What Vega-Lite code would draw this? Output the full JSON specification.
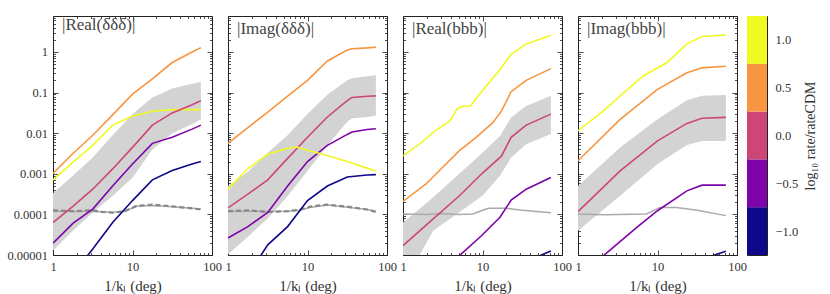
{
 "$schema": "https://vega.github.io/schema/vega-lite/v6.json",
 "padding": {"left": 6, "top": 11, "right": 5, "bottom": 2},
 "background": "white",
 "config": {
  "font": "Liberation Serif",
  "view": {"stroke": "#222", "strokeWidth": 1},
  "axis": {"grid": false, "domain": false, "labelFont": "Liberation Serif", "labelFontSize": 12.5, "labelColor": "#333", "tickColor": "#222", "tickWidth": 0.8, "titleFont": "Liberation Serif", "titleFontSize": 15, "titleFontWeight": "normal", "titleColor": "#333", "labelFlush": false, "labelOverlap": false, "labelBound": false},
  "title": {"font": "Liberation Serif", "fontSize": 17, "fontWeight": "normal", "color": "#444", "anchor": "start", "frame": "group", "baseline": "alphabetic", "offset": 0, "dx": 9, "dy": 26.5}
 },
 "datasets": {
  "lines": [
   {"p":1,"s":"0.5","x":1,"y":0.00102},{"p":1,"s":"0.5","x":1.778,"y":0.00316},{"p":1,"s":"0.5","x":3.162,"y":0.00891},{"p":1,"s":"0.5","x":5.623,"y":0.0282},{"p":1,"s":"0.5","x":10,"y":0.0912},{"p":1,"s":"0.5","x":17.78,"y":0.219},{"p":1,"s":"0.5","x":31.62,"y":0.55},{"p":1,"s":"0.5","x":56.23,"y":1.0},{"p":1,"s":"0.5","x":72.44,"y":1.28},
   {"p":1,"s":"1.0","x":1,"y":0.000708},{"p":1,"s":"1.0","x":1.778,"y":0.00191},{"p":1,"s":"1.0","x":3.162,"y":0.00501},{"p":1,"s":"1.0","x":5.623,"y":0.0158},{"p":1,"s":"1.0","x":7.943,"y":0.0214},{"p":1,"s":"1.0","x":10,"y":0.0263},{"p":1,"s":"1.0","x":17.78,"y":0.0347},{"p":1,"s":"1.0","x":31.62,"y":0.038},{"p":1,"s":"1.0","x":56.23,"y":0.038},{"p":1,"s":"1.0","x":72.44,"y":0.038},
   {"p":1,"s":"0.0","x":1,"y":0.0000631},{"p":1,"s":"0.0","x":1.778,"y":0.0001585},{"p":1,"s":"0.0","x":3.162,"y":0.000417},{"p":1,"s":"0.0","x":5.623,"y":0.001318},{"p":1,"s":"0.0","x":10,"y":0.00447},{"p":1,"s":"0.0","x":17.78,"y":0.0158},{"p":1,"s":"0.0","x":31.62,"y":0.0316},{"p":1,"s":"0.0","x":56.23,"y":0.0501},{"p":1,"s":"0.0","x":72.44,"y":0.0631},
   {"p":1,"s":"-0.5","x":1,"y":0.0000195},{"p":1,"s":"-0.5","x":1.778,"y":0.0000603},{"p":1,"s":"-0.5","x":3.162,"y":0.0001349},{"p":1,"s":"-0.5","x":5.623,"y":0.000501},{"p":1,"s":"-0.5","x":10,"y":0.001738},{"p":1,"s":"-0.5","x":17.78,"y":0.00562},{"p":1,"s":"-0.5","x":31.62,"y":0.00794},{"p":1,"s":"-0.5","x":56.23,"y":0.0126},{"p":1,"s":"-0.5","x":72.44,"y":0.0158},
   {"p":1,"s":"-1.0","x":2.512,"y":0.00000794},{"p":1,"s":"-1.0","x":3.162,"y":0.00001413},{"p":1,"s":"-1.0","x":5.623,"y":0.0000631},{"p":1,"s":"-1.0","x":10,"y":0.000219},{"p":1,"s":"-1.0","x":17.78,"y":0.000708},{"p":1,"s":"-1.0","x":31.62,"y":0.0012},{"p":1,"s":"-1.0","x":56.23,"y":0.00174},{"p":1,"s":"-1.0","x":72.44,"y":0.002},
   {"p":1,"s":"ref","x":1,"y":0.00012},{"p":1,"s":"ref","x":1.778,"y":0.0001175},{"p":1,"s":"ref","x":3.162,"y":0.00012},{"p":1,"s":"ref","x":5.623,"y":0.0001122},{"p":1,"s":"ref","x":7.943,"y":0.0001175},{"p":1,"s":"ref","x":11.22,"y":0.0001585},{"p":1,"s":"ref","x":17.78,"y":0.000166},{"p":1,"s":"ref","x":31.62,"y":0.000155},{"p":1,"s":"ref","x":56.23,"y":0.000141},{"p":1,"s":"ref","x":72.44,"y":0.000135},
   {"p":1,"s":"ref2","x":1,"y":0.000126},{"p":1,"s":"ref2","x":1.778,"y":0.00012},{"p":1,"s":"ref2","x":3.162,"y":0.000126},{"p":1,"s":"ref2","x":3.981,"y":0.000115},{"p":1,"s":"ref2","x":5.623,"y":0.00011},{"p":1,"s":"ref2","x":7.943,"y":0.00012},{"p":1,"s":"ref2","x":11.22,"y":0.000162},{"p":1,"s":"ref2","x":17.78,"y":0.000174},{"p":1,"s":"ref2","x":31.62,"y":0.000158},{"p":1,"s":"ref2","x":56.23,"y":0.000141},{"p":1,"s":"ref2","x":72.44,"y":0.000132},

   {"p":2,"s":"0.5","x":1,"y":0.00562},{"p":2,"s":"0.5","x":1.778,"y":0.0138},{"p":2,"s":"0.5","x":3.162,"y":0.0331},{"p":2,"s":"0.5","x":5.623,"y":0.0813},{"p":2,"s":"0.5","x":10,"y":0.2},{"p":2,"s":"0.5","x":17.78,"y":0.6},{"p":2,"s":"0.5","x":31.62,"y":1.12},{"p":2,"s":"0.5","x":36.31,"y":1.2},{"p":2,"s":"0.5","x":56.23,"y":1.26},{"p":2,"s":"0.5","x":72.44,"y":1.32},
   {"p":2,"s":"0.0","x":1,"y":0.0001445},{"p":2,"s":"0.0","x":1.778,"y":0.000316},{"p":2,"s":"0.0","x":3.162,"y":0.000708},{"p":2,"s":"0.0","x":5.623,"y":0.0024},{"p":2,"s":"0.0","x":10,"y":0.00794},{"p":2,"s":"0.0","x":17.78,"y":0.0251},{"p":2,"s":"0.0","x":31.62,"y":0.0631},{"p":2,"s":"0.0","x":36.31,"y":0.0759},{"p":2,"s":"0.0","x":56.23,"y":0.0813},{"p":2,"s":"0.0","x":72.44,"y":0.0832},
   {"p":2,"s":"-0.5","x":1,"y":0.0000263},{"p":2,"s":"-0.5","x":1.778,"y":0.0000501},{"p":2,"s":"-0.5","x":3.162,"y":0.000112},{"p":2,"s":"-0.5","x":5.623,"y":0.000501},{"p":2,"s":"-0.5","x":10,"y":0.002},{"p":2,"s":"-0.5","x":17.78,"y":0.00501},{"p":2,"s":"-0.5","x":31.62,"y":0.00933},{"p":2,"s":"-0.5","x":36.31,"y":0.0107},{"p":2,"s":"-0.5","x":56.23,"y":0.0123},{"p":2,"s":"-0.5","x":72.44,"y":0.0129},
   {"p":2,"s":"-1.0","x":2.512,"y":0.00000891},{"p":2,"s":"-1.0","x":3.162,"y":0.0000178},{"p":2,"s":"-1.0","x":5.623,"y":0.0000501},{"p":2,"s":"-1.0","x":10,"y":0.000219},{"p":2,"s":"-1.0","x":17.78,"y":0.000501},{"p":2,"s":"-1.0","x":31.62,"y":0.000832},{"p":2,"s":"-1.0","x":56.23,"y":0.000933},{"p":2,"s":"-1.0","x":72.44,"y":0.000955},
   {"p":2,"s":"1.0","x":1,"y":0.000417},{"p":2,"s":"1.0","x":1.778,"y":0.00135},{"p":2,"s":"1.0","x":3.162,"y":0.00302},{"p":2,"s":"1.0","x":5.623,"y":0.00427},{"p":2,"s":"1.0","x":7.413,"y":0.00457},{"p":2,"s":"1.0","x":10,"y":0.0038},{"p":2,"s":"1.0","x":17.78,"y":0.00282},{"p":2,"s":"1.0","x":31.62,"y":0.002},{"p":2,"s":"1.0","x":56.23,"y":0.00138},{"p":2,"s":"1.0","x":72.44,"y":0.001175},
   {"p":2,"s":"ref","x":1,"y":0.0001175},{"p":2,"s":"ref","x":1.778,"y":0.00012},{"p":2,"s":"ref","x":3.162,"y":0.0001175},{"p":2,"s":"ref","x":5.623,"y":0.00012},{"p":2,"s":"ref","x":7.943,"y":0.000126},{"p":2,"s":"ref","x":11.22,"y":0.000151},{"p":2,"s":"ref","x":17.78,"y":0.00017},{"p":2,"s":"ref","x":31.62,"y":0.000151},{"p":2,"s":"ref","x":56.23,"y":0.000132},{"p":2,"s":"ref","x":72.44,"y":0.00012},
   {"p":2,"s":"ref2","x":1,"y":0.00012},{"p":2,"s":"ref2","x":1.778,"y":0.000126},{"p":2,"s":"ref2","x":3.162,"y":0.000115},{"p":2,"s":"ref2","x":5.623,"y":0.00012},{"p":2,"s":"ref2","x":7.943,"y":0.00013},{"p":2,"s":"ref2","x":11.22,"y":0.000158},{"p":2,"s":"ref2","x":17.78,"y":0.000174},{"p":2,"s":"ref2","x":31.62,"y":0.000155},{"p":2,"s":"ref2","x":56.23,"y":0.000132},{"p":2,"s":"ref2","x":72.44,"y":0.000115},

   {"p":3,"s":"1.0","x":1,"y":0.00275},{"p":3,"s":"1.0","x":1.778,"y":0.00631},{"p":3,"s":"1.0","x":2.399,"y":0.0105},{"p":3,"s":"1.0","x":3.89,"y":0.02},{"p":3,"s":"1.0","x":4.786,"y":0.0398},{"p":3,"s":"1.0","x":5.623,"y":0.0457},{"p":3,"s":"1.0","x":7.079,"y":0.0468},{"p":3,"s":"1.0","x":10,"y":0.112},{"p":3,"s":"1.0","x":16.6,"y":0.372},{"p":3,"s":"1.0","x":22.91,"y":0.871},{"p":3,"s":"1.0","x":35.48,"y":1.585},{"p":3,"s":"1.0","x":72.44,"y":2.57},
   {"p":3,"s":"0.5","x":1,"y":0.000209},{"p":3,"s":"0.5","x":1.95,"y":0.000562},{"p":3,"s":"0.5","x":3.162,"y":0.001445},{"p":3,"s":"0.5","x":5.129,"y":0.00372},{"p":3,"s":"0.5","x":8.318,"y":0.00794},{"p":3,"s":"0.5","x":13.49,"y":0.0182},{"p":3,"s":"0.5","x":17.38,"y":0.0355},{"p":3,"s":"0.5","x":22.91,"y":0.105},{"p":3,"s":"0.5","x":35.48,"y":0.2},{"p":3,"s":"0.5","x":72.44,"y":0.389},
   {"p":3,"s":"0.0","x":1,"y":0.000017},{"p":3,"s":"0.0","x":2.399,"y":0.0000776},{"p":3,"s":"0.0","x":5.129,"y":0.000288},{"p":3,"s":"0.0","x":9.772,"y":0.001},{"p":3,"s":"0.0","x":17.38,"y":0.00275},{"p":3,"s":"0.0","x":22.91,"y":0.00794},{"p":3,"s":"0.0","x":35.48,"y":0.0158},{"p":3,"s":"0.0","x":72.44,"y":0.0295},
   {"p":3,"s":"-0.5","x":4.9,"y":0.00000891},{"p":3,"s":"-0.5","x":9.772,"y":0.0000302},{"p":3,"s":"-0.5","x":16.6,"y":0.0000851},{"p":3,"s":"-0.5","x":22.91,"y":0.000224},{"p":3,"s":"-0.5","x":35.48,"y":0.000417},{"p":3,"s":"-0.5","x":72.44,"y":0.000813},
   {"p":3,"s":"-1.0","x":47.86,"y":0.00000891},{"p":3,"s":"-1.0","x":72.44,"y":0.0000126},
   {"p":3,"s":"ref","x":1,"y":0.000102},{"p":3,"s":"ref","x":1.995,"y":0.0001},{"p":3,"s":"ref","x":3.162,"y":0.0001047},{"p":3,"s":"ref","x":5.012,"y":0.0001},{"p":3,"s":"ref","x":7.586,"y":0.000102},{"p":3,"s":"ref","x":10,"y":0.000126},{"p":3,"s":"ref","x":12.02,"y":0.000141},{"p":3,"s":"ref","x":19.95,"y":0.000141},{"p":3,"s":"ref","x":31.62,"y":0.000126},{"p":3,"s":"ref","x":72.44,"y":0.00011},

   {"p":4,"s":"1.0","x":1,"y":0.0115},{"p":4,"s":"1.0","x":2.089,"y":0.0355},{"p":4,"s":"1.0","x":3.388,"y":0.0832},{"p":4,"s":"1.0","x":6.607,"y":0.257},{"p":4,"s":"1.0","x":13.18,"y":0.55},{"p":4,"s":"1.0","x":23.44,"y":1.585},{"p":4,"s":"1.0","x":36.31,"y":2.4},{"p":4,"s":"1.0","x":72.44,"y":2.63},
   {"p":4,"s":"0.5","x":1,"y":0.00209},{"p":4,"s":"0.5","x":3.388,"y":0.0219},{"p":4,"s":"0.5","x":10,"y":0.12},{"p":4,"s":"0.5","x":23.44,"y":0.309},{"p":4,"s":"0.5","x":36.31,"y":0.407},{"p":4,"s":"0.5","x":72.44,"y":0.447},
   {"p":4,"s":"0.0","x":1,"y":0.0001175},{"p":4,"s":"0.0","x":3.388,"y":0.001175},{"p":4,"s":"0.0","x":10,"y":0.00646},{"p":4,"s":"0.0","x":23.44,"y":0.0174},{"p":4,"s":"0.0","x":36.31,"y":0.0234},{"p":4,"s":"0.0","x":72.44,"y":0.0245},
   {"p":4,"s":"-0.5","x":1.995,"y":0.00000891},{"p":4,"s":"-0.5","x":5.495,"y":0.0000479},{"p":4,"s":"-0.5","x":10,"y":0.000123},{"p":4,"s":"-0.5","x":23.44,"y":0.00038},{"p":4,"s":"-0.5","x":36.31,"y":0.000525},{"p":4,"s":"-0.5","x":72.44,"y":0.000525},
   {"p":4,"s":"-1.0","x":43.65,"y":0.00000891},{"p":4,"s":"-1.0","x":72.44,"y":0.0000123},
   {"p":4,"s":"ref","x":1,"y":0.000102},{"p":4,"s":"ref","x":1.585,"y":0.0001},{"p":4,"s":"ref","x":2.239,"y":0.0000977},{"p":4,"s":"ref","x":3.162,"y":0.0001},{"p":4,"s":"ref","x":7.244,"y":0.000102},{"p":4,"s":"ref","x":10.72,"y":0.000148},{"p":4,"s":"ref","x":17.38,"y":0.000148},{"p":4,"s":"ref","x":31.62,"y":0.000126},{"p":4,"s":"ref","x":72.44,"y":0.0000933}
  ],
  "band": [
   {"p":1,"x":1,"lo":0.0000129,"hi":0.000331},{"p":1,"x":1.778,"lo":0.0000398,"hi":0.000891},{"p":1,"x":3.162,"lo":0.000112,"hi":0.00251},{"p":1,"x":5.623,"lo":0.000282,"hi":0.00891},{"p":1,"x":10,"lo":0.000794,"hi":0.0295},{"p":1,"x":17.78,"lo":0.00398,"hi":0.0759},{"p":1,"x":31.62,"lo":0.01,"hi":0.126},{"p":1,"x":56.23,"lo":0.0166,"hi":0.166},{"p":1,"x":72.44,"lo":0.0219,"hi":0.186},
   {"p":2,"x":1,"lo":0.0000105,"hi":0.000501},{"p":2,"x":1.778,"lo":0.0000282,"hi":0.00112},{"p":2,"x":3.162,"lo":0.0000794,"hi":0.00331},{"p":2,"x":5.623,"lo":0.000282,"hi":0.00891},{"p":2,"x":10,"lo":0.001175,"hi":0.0295},{"p":2,"x":17.78,"lo":0.00501,"hi":0.0891},{"p":2,"x":31.62,"lo":0.0191,"hi":0.2},{"p":2,"x":36.31,"lo":0.0234,"hi":0.224},{"p":2,"x":56.23,"lo":0.0251,"hi":0.251},{"p":2,"x":72.44,"lo":0.0269,"hi":0.269},
   {"p":3,"x":1,"lo":0.00000398,"hi":0.0000631},{"p":3,"x":1.62,"lo":0.00001,"hi":0.000138},{"p":3,"x":2.399,"lo":0.0000398,"hi":0.000263},{"p":3,"x":10,"lo":0.000288,"hi":0.00331},{"p":3,"x":16.6,"lo":0.000891,"hi":0.00851},{"p":3,"x":22.91,"lo":0.00251,"hi":0.0245},{"p":3,"x":35.48,"lo":0.00537,"hi":0.0468},{"p":3,"x":72.44,"lo":0.00955,"hi":0.0832},
   {"p":4,"x":1,"lo":0.0000398,"hi":0.000501},{"p":4,"x":3.388,"lo":0.000288,"hi":0.00447},{"p":4,"x":10,"lo":0.00174,"hi":0.0219},{"p":4,"x":23.44,"lo":0.00513,"hi":0.0646},{"p":4,"x":36.31,"lo":0.00646,"hi":0.0832},{"p":4,"x":72.44,"lo":0.00646,"hi":0.0871}
  ],
  "cbar": [
   {"s":"-1.0","lo":-1.25,"hi":-0.75},{"s":"-0.5","lo":-0.75,"hi":-0.25},{"s":"0.0","lo":-0.25,"hi":0.25},{"s":"0.5","lo":0.25,"hi":0.75},{"s":"1.0","lo":0.75,"hi":1.25}
  ]
 },
 "spacing": -1,
 "bounds": "full",
 "hconcat": [
  {
   "spacing": 16,
   "bounds": "flush",
   "hconcat": [
    {
     "width": 159, "height": 239,
     "title": {"text": "|Real(δδδ)|"},
     "resolve": {"axis": {"x": "independent", "y": "independent"}},
     "layer": [
      {"data": {"name": "band"}, "transform": [{"filter": "datum.p == 1"}],
       "mark": {"type": "area", "color": "#d3d3d3", "opacity": 1, "clip": true},
       "encoding": {
        "x": {"field": "x", "type": "quantitative", "scale": {"type": "log", "domain": [1, 100], "nice": false}, "axis": {"orient": "bottom", "values": [1,2,3,4,5,6,7,8,9,10,20,30,40,50,60,70,80,90,100], "labelExpr": "abs(log(datum.value)/LN10-round(log(datum.value)/LN10))<0.001 ? format(datum.value, 'd') : ''", "tickSize": {"condition": {"test": "abs(log(datum.value)/LN10-round(log(datum.value)/LN10))<0.001", "value": -5}, "value": -2.5}, "labelPadding": 10, "title": "1/kₗ (deg)", "titlePadding": 3}},
        "y": {"field": "lo", "type": "quantitative", "scale": {"type": "log", "domain": [0.00001, 7.7], "nice": false}, "axis": {"orient": "left", "values": [0.00001,0.00002,0.00003,0.00004,0.00005,0.00006,0.00007,0.00008,0.00009,0.0001,0.0002,0.0003,0.0004,0.0005,0.0006,0.0007,0.0008,0.0009,0.001,0.002,0.003,0.004,0.005,0.006,0.007,0.008,0.009,0.01,0.02,0.03,0.04,0.05,0.06,0.07,0.08,0.09,0.1,0.2,0.3,0.4,0.5,0.6,0.7,0.8,0.9,1,2,3,4,5,6,7], "labelExpr": "abs(log(datum.value)/LN10-round(log(datum.value)/LN10))<0.001 ? format(datum.value, '.5~f') : ''", "tickSize": {"condition": {"test": "abs(log(datum.value)/LN10-round(log(datum.value)/LN10))<0.001", "value": -5}, "value": -2.5}, "labelPadding": 10.5, "title": null}},
        "y2": {"field": "hi"}
       }},
      {"data": {"name": "lines"}, "transform": [{"filter": "datum.p == 1 && datum.s == 'ref'"}],
       "mark": {"type": "line", "color": "#aaaaaa", "strokeWidth": 1.5, "clip": true},
       "encoding": {
        "x": {"field": "x", "type": "quantitative", "scale": {"type": "log", "domain": [1, 100], "nice": false}, "axis": {"orient": "top", "values": [1,2,3,4,5,6,7,8,9,10,20,30,40,50,60,70,80,90,100], "labels": false, "tickSize": {"condition": {"test": "abs(log(datum.value)/LN10-round(log(datum.value)/LN10))<0.001", "value": -5}, "value": -2.5}, "title": null}},
        "y": {"field": "y", "type": "quantitative", "scale": {"type": "log", "domain": [0.00001, 7.7], "nice": false}, "axis": {"orient": "right", "values": [0.00001,0.00002,0.00003,0.00004,0.00005,0.00006,0.00007,0.00008,0.00009,0.0001,0.0002,0.0003,0.0004,0.0005,0.0006,0.0007,0.0008,0.0009,0.001,0.002,0.003,0.004,0.005,0.006,0.007,0.008,0.009,0.01,0.02,0.03,0.04,0.05,0.06,0.07,0.08,0.09,0.1,0.2,0.3,0.4,0.5,0.6,0.7,0.8,0.9,1,2,3,4,5,6,7], "labels": false, "tickSize": {"condition": {"test": "abs(log(datum.value)/LN10-round(log(datum.value)/LN10))<0.001", "value": -5}, "value": -2.5}, "title": null}}
       }},
      {"data": {"name": "lines"}, "transform": [{"filter": "datum.p == 1 && datum.s == 'ref2'"}],
       "mark": {"type": "line", "color": "#888888", "strokeWidth": 2.2, "strokeDash": [5, 3], "clip": true},
       "encoding": {
        "x": {"field": "x", "type": "quantitative", "scale": {"type": "log", "domain": [1, 100], "nice": false}, "axis": null},
        "y": {"field": "y", "type": "quantitative", "scale": {"type": "log", "domain": [0.00001, 7.7], "nice": false}, "axis": null}
       }},
      {"data": {"name": "lines"}, "transform": [{"filter": "datum.p == 1 && datum.s != 'ref' && datum.s != 'ref2'"}],
       "mark": {"type": "line", "strokeWidth": 1.6, "clip": true},
       "encoding": {
        "x": {"field": "x", "type": "quantitative", "scale": {"type": "log", "domain": [1, 100], "nice": false}, "axis": null},
        "y": {"field": "y", "type": "quantitative", "scale": {"type": "log", "domain": [0.00001, 7.7], "nice": false}, "axis": null},
        "color": {"field": "s", "type": "nominal", "scale": {"domain": ["-1.0","-0.5","0.0","0.5","1.0"], "range": ["#0d0887","#7e03a8","#cc4778","#f89540","#f0f921"]}, "legend": null}
       }}
     ]
    },
    {
     "width": 159, "height": 239,
     "title": {"text": "|Imag(δδδ)|"},
     "resolve": {"axis": {"x": "independent", "y": "independent"}},
     "layer": [
      {"data": {"name": "band"}, "transform": [{"filter": "datum.p == 2"}],
       "mark": {"type": "area", "color": "#d3d3d3", "opacity": 1, "clip": true},
       "encoding": {
        "x": {"field": "x", "type": "quantitative", "scale": {"type": "log", "domain": [1, 100], "nice": false}, "axis": {"orient": "bottom", "values": [1,2,3,4,5,6,7,8,9,10,20,30,40,50,60,70,80,90,100], "labelExpr": "abs(log(datum.value)/LN10-round(log(datum.value)/LN10))<0.001 ? format(datum.value, 'd') : ''", "tickSize": {"condition": {"test": "abs(log(datum.value)/LN10-round(log(datum.value)/LN10))<0.001", "value": -5}, "value": -2.5}, "labelPadding": 10, "title": "1/kₗ (deg)", "titlePadding": 3}},
        "y": {"field": "lo", "type": "quantitative", "scale": {"type": "log", "domain": [0.00001, 7.7], "nice": false}, "axis": {"orient": "left", "values": [0.00001,0.00002,0.00003,0.00004,0.00005,0.00006,0.00007,0.00008,0.00009,0.0001,0.0002,0.0003,0.0004,0.0005,0.0006,0.0007,0.0008,0.0009,0.001,0.002,0.003,0.004,0.005,0.006,0.007,0.008,0.009,0.01,0.02,0.03,0.04,0.05,0.06,0.07,0.08,0.09,0.1,0.2,0.3,0.4,0.5,0.6,0.7,0.8,0.9,1,2,3,4,5,6,7], "labels": false, "tickSize": {"condition": {"test": "abs(log(datum.value)/LN10-round(log(datum.value)/LN10))<0.001", "value": -5}, "value": -2.5}, "title": null}},
        "y2": {"field": "hi"}
       }},
      {"data": {"name": "lines"}, "transform": [{"filter": "datum.p == 2 && datum.s == 'ref'"}],
       "mark": {"type": "line", "color": "#aaaaaa", "strokeWidth": 1.5, "clip": true},
       "encoding": {
        "x": {"field": "x", "type": "quantitative", "scale": {"type": "log", "domain": [1, 100], "nice": false}, "axis": {"orient": "top", "values": [1,2,3,4,5,6,7,8,9,10,20,30,40,50,60,70,80,90,100], "labels": false, "tickSize": {"condition": {"test": "abs(log(datum.value)/LN10-round(log(datum.value)/LN10))<0.001", "value": -5}, "value": -2.5}, "title": null}},
        "y": {"field": "y", "type": "quantitative", "scale": {"type": "log", "domain": [0.00001, 7.7], "nice": false}, "axis": {"orient": "right", "values": [0.00001,0.00002,0.00003,0.00004,0.00005,0.00006,0.00007,0.00008,0.00009,0.0001,0.0002,0.0003,0.0004,0.0005,0.0006,0.0007,0.0008,0.0009,0.001,0.002,0.003,0.004,0.005,0.006,0.007,0.008,0.009,0.01,0.02,0.03,0.04,0.05,0.06,0.07,0.08,0.09,0.1,0.2,0.3,0.4,0.5,0.6,0.7,0.8,0.9,1,2,3,4,5,6,7], "labels": false, "tickSize": {"condition": {"test": "abs(log(datum.value)/LN10-round(log(datum.value)/LN10))<0.001", "value": -5}, "value": -2.5}, "title": null}}
       }},
      {"data": {"name": "lines"}, "transform": [{"filter": "datum.p == 2 && datum.s == 'ref2'"}],
       "mark": {"type": "line", "color": "#888888", "strokeWidth": 2.2, "strokeDash": [5, 3], "clip": true},
       "encoding": {
        "x": {"field": "x", "type": "quantitative", "scale": {"type": "log", "domain": [1, 100], "nice": false}, "axis": null},
        "y": {"field": "y", "type": "quantitative", "scale": {"type": "log", "domain": [0.00001, 7.7], "nice": false}, "axis": null}
       }},
      {"data": {"name": "lines"}, "transform": [{"filter": "datum.p == 2 && datum.s != 'ref' && datum.s != 'ref2'"}],
       "mark": {"type": "line", "strokeWidth": 1.6, "clip": true},
       "encoding": {
        "x": {"field": "x", "type": "quantitative", "scale": {"type": "log", "domain": [1, 100], "nice": false}, "axis": null},
        "y": {"field": "y", "type": "quantitative", "scale": {"type": "log", "domain": [0.00001, 7.7], "nice": false}, "axis": null},
        "color": {"field": "s", "type": "nominal", "scale": {"domain": ["-1.0","-0.5","0.0","0.5","1.0"], "range": ["#0d0887","#7e03a8","#cc4778","#f89540","#f0f921"]}, "legend": null}
       }}
     ]
    },
    {
     "width": 159, "height": 239,
     "title": {"text": "|Real(bbb)|"},
     "resolve": {"axis": {"x": "independent", "y": "independent"}},
     "layer": [
      {"data": {"name": "band"}, "transform": [{"filter": "datum.p == 3"}],
       "mark": {"type": "area", "color": "#d3d3d3", "opacity": 1, "clip": true},
       "encoding": {
        "x": {"field": "x", "type": "quantitative", "scale": {"type": "log", "domain": [1, 100], "nice": false}, "axis": {"orient": "bottom", "values": [1,2,3,4,5,6,7,8,9,10,20,30,40,50,60,70,80,90,100], "labelExpr": "abs(log(datum.value)/LN10-round(log(datum.value)/LN10))<0.001 ? format(datum.value, 'd') : ''", "tickSize": {"condition": {"test": "abs(log(datum.value)/LN10-round(log(datum.value)/LN10))<0.001", "value": -5}, "value": -2.5}, "labelPadding": 10, "title": "1/kₗ (deg)", "titlePadding": 3}},
        "y": {"field": "lo", "type": "quantitative", "scale": {"type": "log", "domain": [0.00001, 7.7], "nice": false}, "axis": {"orient": "left", "values": [0.00001,0.00002,0.00003,0.00004,0.00005,0.00006,0.00007,0.00008,0.00009,0.0001,0.0002,0.0003,0.0004,0.0005,0.0006,0.0007,0.0008,0.0009,0.001,0.002,0.003,0.004,0.005,0.006,0.007,0.008,0.009,0.01,0.02,0.03,0.04,0.05,0.06,0.07,0.08,0.09,0.1,0.2,0.3,0.4,0.5,0.6,0.7,0.8,0.9,1,2,3,4,5,6,7], "labels": false, "tickSize": {"condition": {"test": "abs(log(datum.value)/LN10-round(log(datum.value)/LN10))<0.001", "value": -5}, "value": -2.5}, "title": null}},
        "y2": {"field": "hi"}
       }},
      {"data": {"name": "lines"}, "transform": [{"filter": "datum.p == 3 && datum.s == 'ref'"}],
       "mark": {"type": "line", "color": "#aaaaaa", "strokeWidth": 1.5, "clip": true},
       "encoding": {
        "x": {"field": "x", "type": "quantitative", "scale": {"type": "log", "domain": [1, 100], "nice": false}, "axis": {"orient": "top", "values": [1,2,3,4,5,6,7,8,9,10,20,30,40,50,60,70,80,90,100], "labels": false, "tickSize": {"condition": {"test": "abs(log(datum.value)/LN10-round(log(datum.value)/LN10))<0.001", "value": -5}, "value": -2.5}, "title": null}},
        "y": {"field": "y", "type": "quantitative", "scale": {"type": "log", "domain": [0.00001, 7.7], "nice": false}, "axis": {"orient": "right", "values": [0.00001,0.00002,0.00003,0.00004,0.00005,0.00006,0.00007,0.00008,0.00009,0.0001,0.0002,0.0003,0.0004,0.0005,0.0006,0.0007,0.0008,0.0009,0.001,0.002,0.003,0.004,0.005,0.006,0.007,0.008,0.009,0.01,0.02,0.03,0.04,0.05,0.06,0.07,0.08,0.09,0.1,0.2,0.3,0.4,0.5,0.6,0.7,0.8,0.9,1,2,3,4,5,6,7], "labels": false, "tickSize": {"condition": {"test": "abs(log(datum.value)/LN10-round(log(datum.value)/LN10))<0.001", "value": -5}, "value": -2.5}, "title": null}}
       }},
      {"data": {"name": "lines"}, "transform": [{"filter": "datum.p == 3 && datum.s != 'ref' && datum.s != 'ref2'"}],
       "mark": {"type": "line", "strokeWidth": 1.6, "clip": true},
       "encoding": {
        "x": {"field": "x", "type": "quantitative", "scale": {"type": "log", "domain": [1, 100], "nice": false}, "axis": null},
        "y": {"field": "y", "type": "quantitative", "scale": {"type": "log", "domain": [0.00001, 7.7], "nice": false}, "axis": null},
        "color": {"field": "s", "type": "nominal", "scale": {"domain": ["-1.0","-0.5","0.0","0.5","1.0"], "range": ["#0d0887","#7e03a8","#cc4778","#f89540","#f0f921"]}, "legend": null}
       }}
     ]
    },
    {
     "width": 159, "height": 239,
     "title": {"text": "|Imag(bbb)|"},
     "resolve": {"axis": {"x": "independent", "y": "independent"}},
     "layer": [
      {"data": {"name": "band"}, "transform": [{"filter": "datum.p == 4"}],
       "mark": {"type": "area", "color": "#d3d3d3", "opacity": 1, "clip": true},
       "encoding": {
        "x": {"field": "x", "type": "quantitative", "scale": {"type": "log", "domain": [1, 100], "nice": false}, "axis": {"orient": "bottom", "values": [1,2,3,4,5,6,7,8,9,10,20,30,40,50,60,70,80,90,100], "labelExpr": "abs(log(datum.value)/LN10-round(log(datum.value)/LN10))<0.001 ? format(datum.value, 'd') : ''", "tickSize": {"condition": {"test": "abs(log(datum.value)/LN10-round(log(datum.value)/LN10))<0.001", "value": -5}, "value": -2.5}, "labelPadding": 10, "title": "1/kₗ (deg)", "titlePadding": 3}},
        "y": {"field": "lo", "type": "quantitative", "scale": {"type": "log", "domain": [0.00001, 7.7], "nice": false}, "axis": {"orient": "left", "values": [0.00001,0.00002,0.00003,0.00004,0.00005,0.00006,0.00007,0.00008,0.00009,0.0001,0.0002,0.0003,0.0004,0.0005,0.0006,0.0007,0.0008,0.0009,0.001,0.002,0.003,0.004,0.005,0.006,0.007,0.008,0.009,0.01,0.02,0.03,0.04,0.05,0.06,0.07,0.08,0.09,0.1,0.2,0.3,0.4,0.5,0.6,0.7,0.8,0.9,1,2,3,4,5,6,7], "labels": false, "tickSize": {"condition": {"test": "abs(log(datum.value)/LN10-round(log(datum.value)/LN10))<0.001", "value": -5}, "value": -2.5}, "title": null}},
        "y2": {"field": "hi"}
       }},
      {"data": {"name": "lines"}, "transform": [{"filter": "datum.p == 4 && datum.s == 'ref'"}],
       "mark": {"type": "line", "color": "#aaaaaa", "strokeWidth": 1.5, "clip": true},
       "encoding": {
        "x": {"field": "x", "type": "quantitative", "scale": {"type": "log", "domain": [1, 100], "nice": false}, "axis": {"orient": "top", "values": [1,2,3,4,5,6,7,8,9,10,20,30,40,50,60,70,80,90,100], "labels": false, "tickSize": {"condition": {"test": "abs(log(datum.value)/LN10-round(log(datum.value)/LN10))<0.001", "value": -5}, "value": -2.5}, "title": null}},
        "y": {"field": "y", "type": "quantitative", "scale": {"type": "log", "domain": [0.00001, 7.7], "nice": false}, "axis": {"orient": "right", "values": [0.00001,0.00002,0.00003,0.00004,0.00005,0.00006,0.00007,0.00008,0.00009,0.0001,0.0002,0.0003,0.0004,0.0005,0.0006,0.0007,0.0008,0.0009,0.001,0.002,0.003,0.004,0.005,0.006,0.007,0.008,0.009,0.01,0.02,0.03,0.04,0.05,0.06,0.07,0.08,0.09,0.1,0.2,0.3,0.4,0.5,0.6,0.7,0.8,0.9,1,2,3,4,5,6,7], "labels": false, "tickSize": {"condition": {"test": "abs(log(datum.value)/LN10-round(log(datum.value)/LN10))<0.001", "value": -5}, "value": -2.5}, "title": null}}
       }},
      {"data": {"name": "lines"}, "transform": [{"filter": "datum.p == 4 && datum.s != 'ref' && datum.s != 'ref2'"}],
       "mark": {"type": "line", "strokeWidth": 1.6, "clip": true},
       "encoding": {
        "x": {"field": "x", "type": "quantitative", "scale": {"type": "log", "domain": [1, 100], "nice": false}, "axis": null},
        "y": {"field": "y", "type": "quantitative", "scale": {"type": "log", "domain": [0.00001, 7.7], "nice": false}, "axis": null},
        "color": {"field": "s", "type": "nominal", "scale": {"domain": ["-1.0","-0.5","0.0","0.5","1.0"], "range": ["#0d0887","#7e03a8","#cc4778","#f89540","#f0f921"]}, "legend": null}
       }}
     ]
    }
   ]
  },
  {
   "width": 20, "height": 239,
   "data": {"name": "cbar"},
   "mark": {"type": "rect"},
   "encoding": {
    "y": {"field": "lo", "type": "quantitative", "scale": {"domain": [-1.25, 1.25], "nice": false, "zero": false}, "axis": {"orient": "right", "values": [-1, -0.5, 0, 0.5, 1], "format": ".1f", "ticks": false, "labelPadding": 8, "title": "log₁₀ rate/rateCDM", "titleAngle": 270, "titleBaseline": "top", "titlePadding": 6, "titleFontSize": 14}},
    "y2": {"field": "hi"},
    "color": {"field": "s", "type": "nominal", "scale": {"domain": ["-1.0","-0.5","0.0","0.5","1.0"], "range": ["#0d0887","#7e03a8","#cc4778","#f89540","#f0f921"]}, "legend": null}
   }
  }
 ]
}
